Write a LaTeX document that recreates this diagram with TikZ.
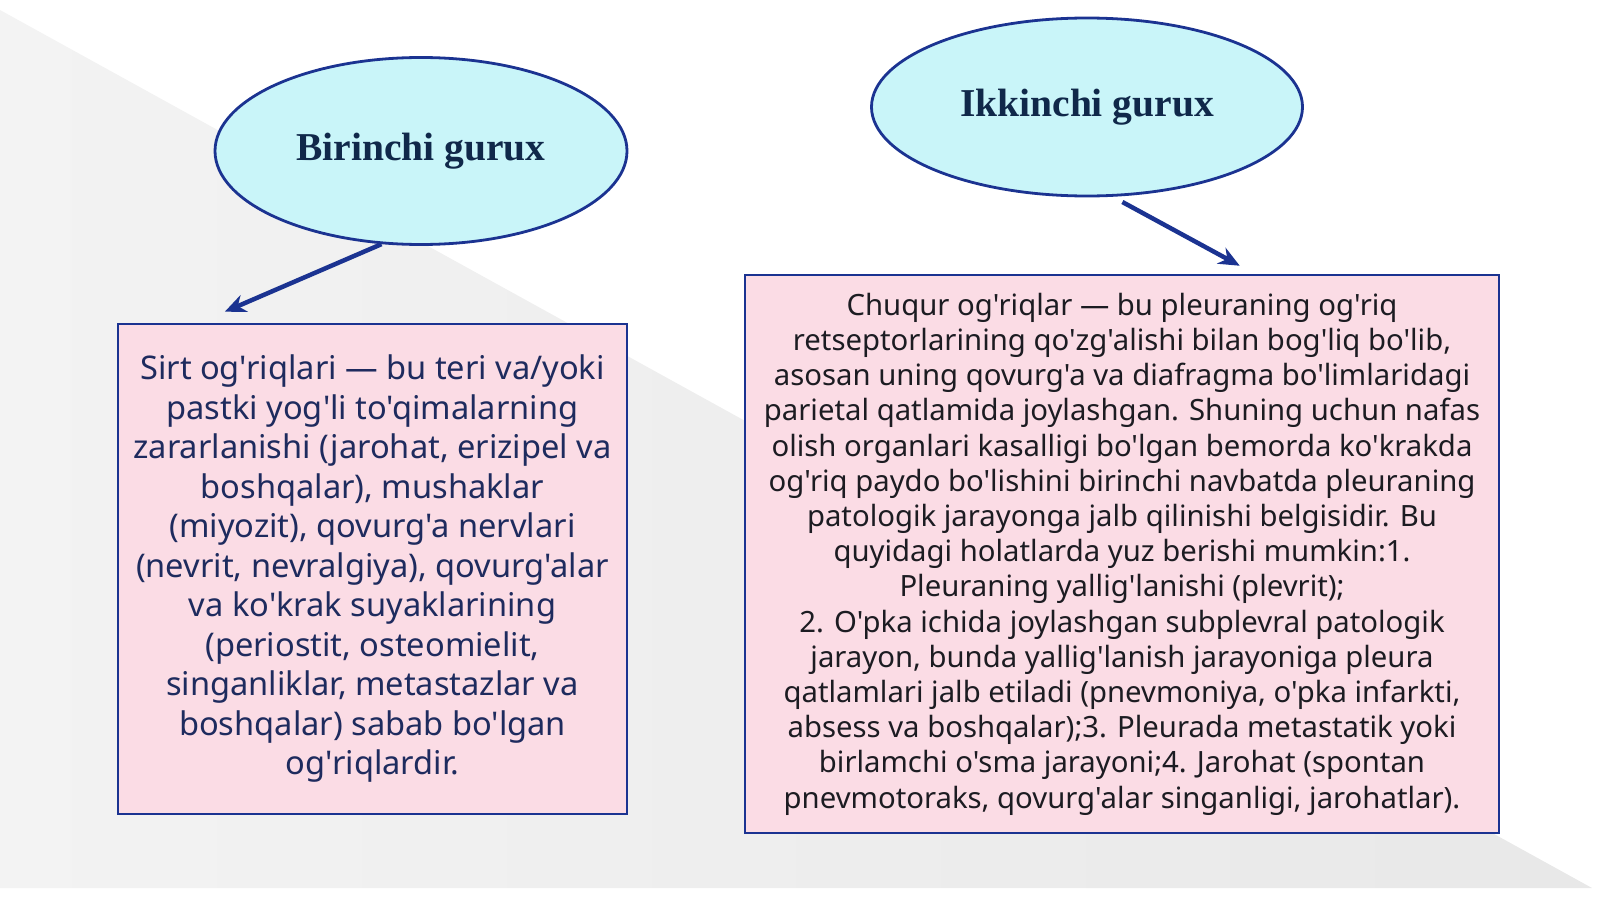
\documentclass[tikz,border=0pt]{standalone}
\usepackage{fontspec}
\newfontfamily\bodyfont{Noto Sans}
\newfontfamily\titlefont{Liberation Serif}
\usetikzlibrary{arrows.meta,shapes.geometric}
\definecolor{lineblue}{HTML}{1B3391}
\definecolor{ovalfill}{HTML}{C9F5F9}
\definecolor{boxfill}{HTML}{FBDCE5}
\definecolor{titleink}{HTML}{10284A}
\definecolor{navyink}{HTML}{1E2B5E}
\definecolor{darkink}{HTML}{1C1C22}
\definecolor{backgrey}{HTML}{E8E8E8}
\definecolor{backlight}{HTML}{F3F3F3}

\begin{document}
\begin{tikzpicture}[
        x=1pt, y=-1pt,
        >={Stealth[length=21pt,width=18pt]},
        group/.style={ellipse, draw=lineblue, line width=2.8pt, fill=ovalfill,
            inner sep=0pt, text=titleink,
            font=\titlefont\bfseries\fontsize{39.5}{44}\selectfont},
        info/.style={rectangle, draw=lineblue, line width=2.5pt, fill=boxfill,
            inner sep=0pt, align=center},
        pointer/.style={->, draw=lineblue, line width=4.5pt}
    ]
    \useasboundingbox (0,0) rectangle (1600,899);
    \shade[left color=backlight, right color=backgrey] (0,10) -- (1592,888) -- (0,888) -- cycle;

    \node[group, minimum width=412pt, minimum height=187pt] (birinchi) at (421,151) {\raisebox{-4pt}{Birinchi gurux}};
    \node[group, minimum width=431pt, minimum height=178pt] (ikkinchi) at (1087,107) {\raisebox{-3pt}{Ikkinchi gurux}};

    \node[info, minimum width=509pt, minimum height=490pt, text=navyink,
        font=\bodyfont\fontsize{32.6}{39.5}\selectfont] (sirt) at (372.5,569) {%
        Sirt og'riqlari — bu teri va/yoki\\
        pastki yog'li to'qimalarning\\
        zararlanishi (jarohat, erizipel va\\
        boshqalar), mushaklar\\
        (miyozit), qovurg'a nervlari\\
        (nevrit, nevralgiya), qovurg'alar\\
        va ko'krak suyaklarining\\
        (periostit, osteomielit,\\
        singanliklar, metastazlar va\\
        boshqalar) sabab bo'lgan\\
        og'riqlardir.};
    \node[info, minimum width=754pt, minimum height=558pt, text=darkink,
        font=\bodyfont\fontsize{29.3}{35.2}\selectfont] (chuqur) at (1122,554) {%
        Chuqur og'riqlar — bu pleuraning og'riq\\
        retseptorlarining qo'zg'alishi bilan bog'liq bo'lib,\\
        asosan uning qovurg'a va diafragma bo'limlaridagi\\
        parietal qatlamida joylashgan. Shuning uchun nafas\\
        olish organlari kasalligi bo'lgan bemorda ko'krakda\\
        og'riq paydo bo'lishini birinchi navbatda pleuraning\\
        patologik jarayonga jalb qilinishi belgisidir. Bu\\
        quyidagi holatlarda yuz berishi mumkin:1.\\
        Pleuraning yallig'lanishi (plevrit);\\
        2. O'pka ichida joylashgan subplevral patologik\\
        jarayon, bunda yallig'lanish jarayoniga pleura\\
        qatlamlari jalb etiladi (pnevmoniya, o'pka infarkti,\\
        absess va boshqalar);3. Pleurada metastatik yoki\\
        birlamchi o'sma jarayoni;4. Jarohat (spontan\\
        pnevmotoraks, qovurg'alar singanligi, jarohatlar).};

    % arrow tips stop just above the boxes
    \coordinate (sirttip) at ([xshift=108pt,yshift=11pt]sirt.north west);
    \coordinate (chuqurtip) at ([xshift=496pt,yshift=8pt]chuqur.north west);
    \draw[pointer] (birinchi.247) -- (sirttip);
    \draw[pointer, shorten <=11pt] (ikkinchi.286) -- (chuqurtip);
\end{tikzpicture}
\end{document}
